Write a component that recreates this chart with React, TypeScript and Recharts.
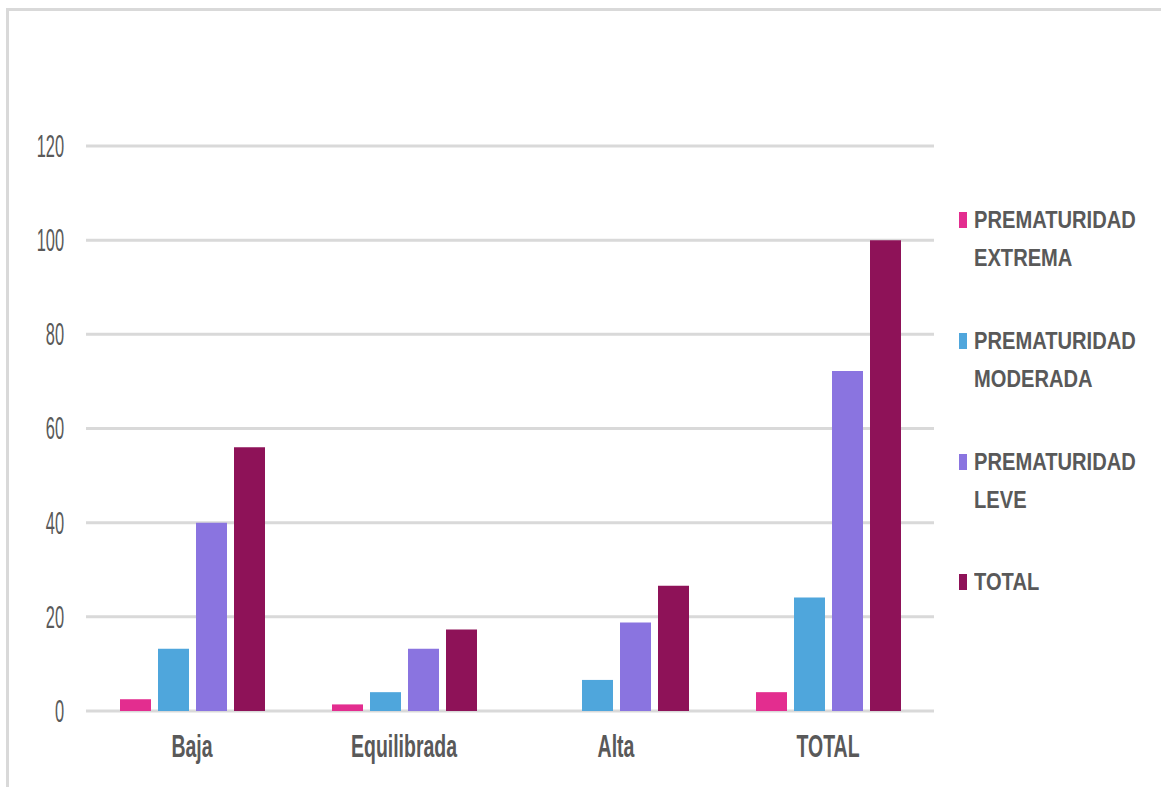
import React from 'react';
import { BarChart, Bar, XAxis, YAxis, CartesianGrid, Legend } from 'recharts';

// Categories (nivel) and series values (%)
const categories = ['Baja', 'Equilibrada', 'Alta', 'TOTAL'];
const extrema = [2.5, 1.4, 0, 4.0];
const moderada = [13.2, 4.0, 6.6, 24.1];
const leve = [40, 13.2, 18.8, 72.2];
const total = [56, 17.3, 26.6, 100];
const yTicks = [0, 20, 40, 60, 80, 100, 120];

const series = [
  { key: 'extrema', name: 'PREMATURIDAD EXTREMA', lines: ['PREMATURIDAD', 'EXTREMA'], color: '#E32D8F', values: extrema },
  { key: 'moderada', name: 'PREMATURIDAD MODERADA', lines: ['PREMATURIDAD', 'MODERADA'], color: '#4FA6DC', values: moderada },
  { key: 'leve', name: 'PREMATURIDAD LEVE', lines: ['PREMATURIDAD', 'LEVE'], color: '#8A74E0', values: leve },
  { key: 'total', name: 'TOTAL', lines: ['TOTAL'], color: '#8E1258', values: total },
];

const data = categories.map((c, i) => {
  const row: Record<string, string | number> = { name: c };
  series.forEach((s) => {
    row[s.key] = s.values[i];
  });
  return row;
});

const SANS = "'Liberation Sans', Arial, sans-serif";
const TEXT = '#595959';

// Condensed, tall value labels on the left axis
const YTick = (props: any) => {
  const { x, y, payload } = props;
  return (
    <g transform={`translate(${x - 14},${y}) scale(0.82,1.54)`}>
      <text x={0} y={0} dy={7.1} textAnchor="end" fill={TEXT} fontFamily={SANS} fontSize={20}>
        {payload.value}
      </text>
    </g>
  );
};

// Bold condensed category labels
const XTick = (props: any) => {
  const { x, y, payload } = props;
  return (
    <g transform={`translate(${x},${y + 38}) scale(0.885,1.4)`}>
      <text x={0} y={0} textAnchor="middle" fill={TEXT} fontFamily={SANS} fontWeight="bold" fontSize={22}>
        {payload.value}
      </text>
    </g>
  );
};

const LegendContent = () => (
  <div style={{ position: 'relative', width: 200, height: 420 }}>
    {series.map((s, i) => (
      <div key={s.key} style={{ position: 'absolute', left: 0, top: i * 120.8 }}>
        <div
          style={{
            position: 'absolute',
            left: 1,
            top: 11,
            width: 8,
            height: 16,
            background: s.color,
          }}
        />
        {s.lines.map((ln, j) => (
          <div
            key={j}
            style={{
              position: 'absolute',
              left: 16,
              top: j * 38,
              height: 38,
              lineHeight: '38px',
              whiteSpace: 'nowrap',
              fontFamily: SANS,
              fontWeight: 'bold',
              fontSize: 23,
              color: TEXT,
              transform: 'scaleX(0.875)',
              transformOrigin: 'left center',
            }}
          >
            {ln}
          </div>
        ))}
      </div>
    ))}
  </div>
);

export default function App() {
  return (
    <div style={{ position: 'absolute', left: 0, top: 0, width: 1161, height: 787, background: '#fff' }}>
      <div
        style={{
          position: 'absolute',
          left: 6,
          top: 8,
          right: 0,
          bottom: 0,
          borderTop: '3px solid #d9d9d9',
          borderLeft: '3px solid #d9d9d9',
        }}
      />
      <BarChart
        width={1161}
        height={787}
        data={data}
        margin={{ top: 146, right: 227, bottom: 26, left: 26 }}
        barSize={31}
        barGap={7}
        style={{ position: 'absolute', left: 0, top: 0 }}
      >
        <CartesianGrid vertical={false} stroke="#d9d9d9" strokeWidth={3} />
        <XAxis dataKey="name" axisLine={false} tickLine={false} height={50} tick={<XTick />} interval={0} />
        <YAxis
          domain={[0, 120]}
          ticks={yTicks}
          axisLine={false}
          tickLine={false}
          width={60}
          tick={<YTick />}
          interval={0}
        />
        <Legend
          layout="horizontal"
          verticalAlign="middle"
          align="center"
          content={<LegendContent />}
          wrapperStyle={{ left: 958, top: 201, width: 200, height: 420 }}
        />
        {series.map((s) => (
          <Bar key={s.key} dataKey={s.key} name={s.name} fill={s.color} isAnimationActive={false} />
        ))}
      </BarChart>
    </div>
  );
}
